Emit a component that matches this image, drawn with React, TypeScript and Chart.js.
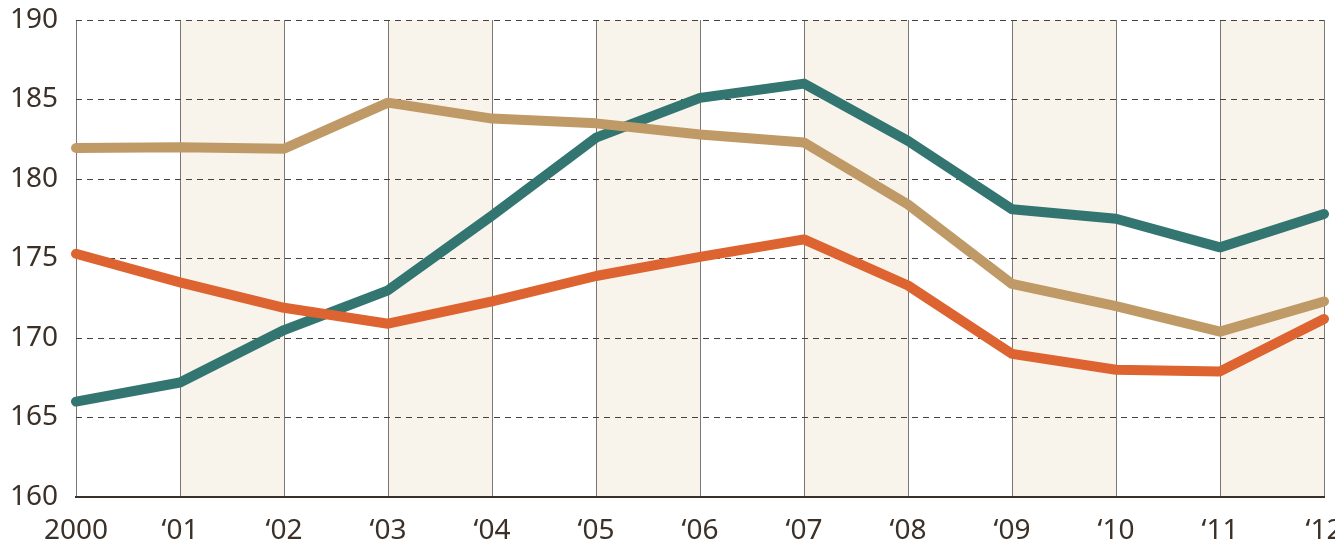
import React, { useEffect, useRef } from "react";
import { Chart, registerables } from "chart.js";

Chart.register(...registerables);

const categories = ["2000", "\u201801", "\u201802", "\u201803", "\u201804", "\u201805", "\u201806", "\u201807", "\u201808", "\u201809", "\u201810", "\u201811", "\u201812"];
const tealValues = [166.0, 167.2, 170.5, 173.0, 177.7, 182.6, 185.1, 186.0, 182.4, 178.1, 177.5, 175.7, 177.8];
const tanValues = [181.95, 182.0, 181.9, 184.8, 183.8, 183.5, 182.8, 182.3, 178.4, 173.4, 172.0, 170.4, 172.3];
const orangeValues = [175.3, 173.5, 171.9, 170.9, 172.3, 173.9, 175.1, 176.2, 173.3, 169.0, 168.0, 167.9, 171.2];
const yMin = 160;
const yMax = 190;
const yStep = 5;

const TEXT = "#3b3129";

const bandPlugin = {
  id: "bands",
  beforeDraw(chart: any) {
    const { ctx, chartArea, scales } = chart;
    const x = scales.x;
    ctx.save();
    ctx.fillStyle = "#f8f4ec";
    for (let i = 1; i < categories.length - 1; i += 2) {
      const x0 = x.getPixelForValue(i);
      const x1 = x.getPixelForValue(i + 1);
      ctx.fillRect(x0, chartArea.top, x1 - x0, chartArea.bottom - chartArea.top);
    }
    ctx.restore();
  },
};

export default function App() {
  const ref = useRef<HTMLCanvasElement | null>(null);
  useEffect(() => {
    if (!ref.current) return;
    const mk = (data: number[], color: string) => ({
      data,
      borderColor: color,
      backgroundColor: color,
      borderWidth: 10,
      pointRadius: 0,
      tension: 0,
      borderCapStyle: "round" as const,
      borderJoinStyle: "round" as const,
      fill: false,
    });
    const chart = new Chart(ref.current, {
      type: "line",
      data: {
        labels: categories,
        datasets: [mk(tanValues, "#c09a66"), mk(orangeValues, "#dd6430"), mk(tealValues, "#337570")],
      },
      options: {
        animation: false,
        responsive: true,
        maintainAspectRatio: false,
        layout: { padding: { top: 20, right: 11, left: 0, bottom: 0 } },
        plugins: { legend: { display: false }, tooltip: { enabled: false } },
        scales: {
          x: {
            offset: false,
            grid: { display: true, color: "#7d7772", lineWidth: 1, drawTicks: false },
            border: { display: true, color: TEXT, width: 2 },
            ticks: {
              color: TEXT,
              font: { family: "Noto Sans", size: 28 },
              padding: 17,
              maxRotation: 0,
              autoSkip: false,
            },
            afterFit(scale: any) {
              scale.height = 45;
              scale.paddingLeft = 0;
              scale.paddingRight = 0;
            },
          },
          y: {
            min: yMin,
            max: yMax,
            grid: {
              display: true,
              color: (c: any) => (c.tick && c.tick.value === yMin ? "rgba(0,0,0,0)" : "#4a413a"),
              lineWidth: 1,
              drawTicks: false,
            },
            border: { display: false, dash: [6, 5] },
            ticks: {
              stepSize: yStep,
              color: TEXT,
              font: { family: "Noto Sans", size: 28 },
              padding: 18,
            },
            afterFit(scale: any) {
              scale.width = 76;
              scale.paddingTop = 0;
              scale.paddingBottom = 0;
            },
          },
        },
      },
      plugins: [bandPlugin],
    });
    return () => chart.destroy();
  }, []);
  return (
    <div style={{ position: "absolute", left: 0, top: 0, width: 1335, height: 542, background: "#fff" }}>
      <canvas ref={ref} />
    </div>
  );
}
